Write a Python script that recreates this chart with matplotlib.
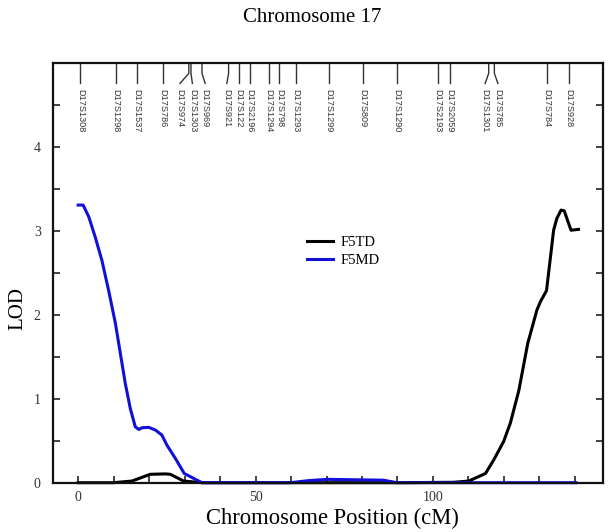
import matplotlib
matplotlib.use("Agg")
import matplotlib.pyplot as plt
from matplotlib.ticker import FixedLocator, MultipleLocator
import matplotlib.transforms as mtransforms

# ---------------- data ----------------
td_x = [0, 10, 15.2, 20.3, 24.6, 26, 29.7, 35, 60, 90, 105.8, 110.1, 114.8, 117.1,
        119.9, 121.8, 124.2, 126.7, 129.3, 130.3, 132.0, 134.0, 134.9, 136.1, 137.0,
        138.9, 141.0]
td_y = [0, 0, 0.02, 0.10, 0.105, 0.10, 0.02, 0, 0, 0, 0.005, 0.02, 0.11, 0.27,
        0.49, 0.71, 1.10, 1.66, 2.06, 2.16, 2.29, 3.01, 3.15, 3.25, 3.24,
        3.01, 3.02]

md_x = [0, 1.4, 3.0, 4.8, 6.7, 8.6, 10.5, 11.9, 13.3, 14.7, 16.1, 17.1, 18.0, 19.9,
        21.8, 23.6, 25.0, 27.4, 29.9, 34.9, 59.8, 65, 70.2, 78, 86, 89.9, 140.3]
md_y = [3.31, 3.31, 3.17, 2.93, 2.65, 2.29, 1.90, 1.54, 1.18, 0.885, 0.667, 0.635,
        0.655, 0.66, 0.627, 0.568, 0.449, 0.29, 0.11, 0.0, 0.0, 0.025, 0.04, 0.035,
        0.03, 0.0, 0.0]

marker_names = ["D17S1308", "D17S1298", "D17S1537", "D17S786", "D17S974", "D17S1303",
                "D17S969", "D17S921", "D17S122", "D17S2196", "D17S1294", "D17S798",
                "D17S1293", "D17S1299", "D17S809", "D17S1290", "D17S2193", "D17S2059",
                "D17S1301", "D17S785", "D17S784", "D17S928"]
marker_pos = [0.6, 10.7, 16.6, 23.9, 31.2, 31.8, 34.9, 42.4, 45.2, 48.3, 53.7, 56.7,
              61.4, 70.6, 80.3, 89.9, 101.3, 104.7, 115.7, 117.3, 132.2, 138.4]
# label nudges (cM) for crowded markers
label_nudge = {"D17S974": -2.5, "D17S1303": 0.4, "D17S969": 0.9, "D17S921": -0.5,
               "D17S1301": -1.0, "D17S785": 1.0}

x_major = [0, 50, 100]
y_major = [0, 1, 2, 3, 4]

# ---------------- figure ----------------
W, H = 612, 532
fig = plt.figure(figsize=(W / 100, H / 100), dpi=100)
ax = fig.add_axes([53.3 / W, 1 - 482.7 / H, (603.3 - 53.3) / W, (482.7 - 63.3) / H])

serif = ["Liberation Serif", "DejaVu Serif"]
sans = ["Liberation Sans", "DejaVu Sans"]

ax.plot(td_x, td_y, color="black", lw=2.2, label="F5TD", clip_on=False,
        solid_joinstyle="round")
ax.plot(md_x, md_y, color="#1010d8", lw=2.2, label="F5MD", clip_on=False,
        solid_joinstyle="round")

ax.set_xlim(-7, 148)
ax.set_ylim(0, 5)

ax.xaxis.set_major_locator(FixedLocator(x_major))
ax.xaxis.set_minor_locator(FixedLocator([v for v in range(10, 141, 10) if v not in x_major]))
ax.yaxis.set_major_locator(FixedLocator(y_major))
ax.yaxis.set_minor_locator(FixedLocator([0.5, 1.5, 2.5, 3.5, 4.5]))

ax.tick_params(which="both", direction="in", length=5, width=1.2, color="#222222",
               top=False, right=True, labelright=False)
ax.tick_params(axis="x", which="major", labelsize=10, pad=6, labelcolor="#333333")
ax.tick_params(axis="y", which="major", labelsize=10, pad=9, labelcolor="#333333")
for lab in ax.get_xticklabels() + ax.get_yticklabels():
    lab.set_family(serif)

for s in ["left", "right", "bottom", "top"]:
    ax.spines[s].set_linewidth(1.6)
    ax.spines[s].set_color("#111111")

# markers along the top
trans = mtransforms.blended_transform_factory(ax.transData, ax.transData)
y_top, y_bend, y_end, y_text = 5.0, 4.88, 4.76, 4.695
for name, pos in zip(marker_names, marker_pos):
    nudge = label_nudge.get(name, 0.0)
    lx = pos + nudge
    if nudge:
        xs, ys = [pos, pos, lx], [y_top, y_bend, y_end]
    else:
        xs, ys = [pos, pos], [y_top, y_end]
    ax.plot(xs, ys, color="#333333", lw=1.0, clip_on=False)
    ax.text(lx, y_text, name, rotation=270, ha="center", va="top",
            fontsize=6.6, family=sans, color="#333333", clip_on=False)

# legend
leg = ax.legend(loc="upper left", bbox_to_anchor=(307 / W, 1 - 236 / H),
                bbox_transform=fig.transFigure, frameon=False, borderpad=0,
                borderaxespad=0, handlelength=1.75, handletextpad=0.55,
                labelspacing=0.3, prop={"family": serif, "size": 10.5})

fig.text(312 / W, 1 - 17 / H, "Chromosome 17", ha="center", va="center",
         fontsize=15, family=serif)
fig.text(332 / W, 1 - 518 / H, "Chromosome Position (cM)", ha="center", va="center",
         fontsize=16.3, family=serif)
fig.text(18 / W, 1 - 308 / H, "LOD", ha="center", va="center", rotation=90,
         fontsize=15, family=serif)

fig.savefig("out.png", dpi=100)
